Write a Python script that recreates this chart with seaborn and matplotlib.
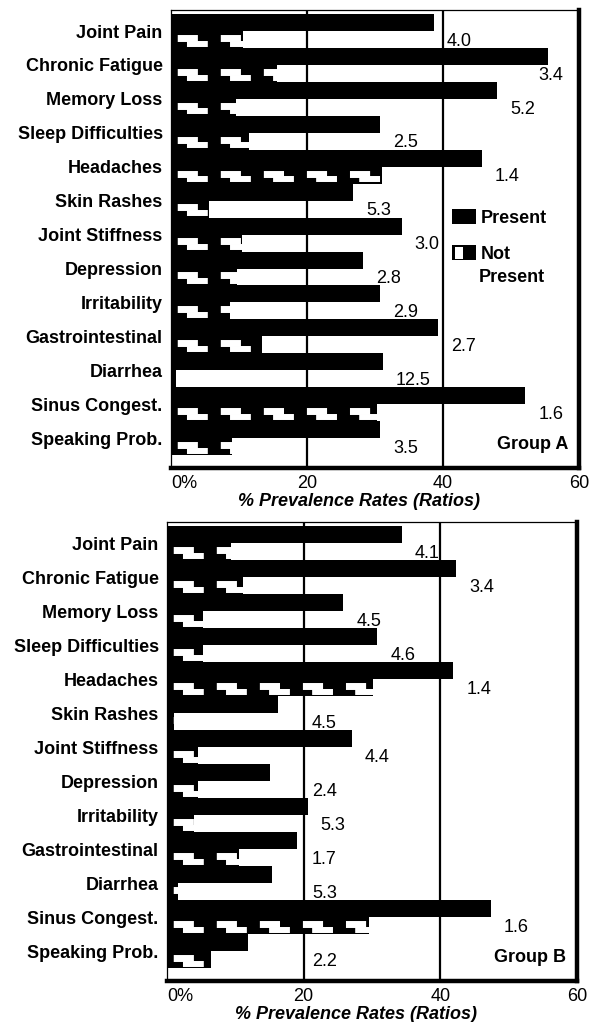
import pandas as pd
import seaborn as sns
import matplotlib.pyplot as plt
from matplotlib.patches import Rectangle
from matplotlib.legend_handler import HandlerBase

categories = ["Joint Pain", "Chronic Fatigue", "Memory Loss", "Sleep Difficulties",
              "Headaches", "Skin Rashes", "Joint Stiffness", "Depression",
              "Irritability", "Gastrointestinal", "Diarrhea", "Sinus Congest.",
              "Speaking Prob."]

# Group A
a_present = [38.6, 55.5, 48.0, 30.8, 45.7, 26.8, 33.9, 28.3, 30.8, 39.3, 31.1, 52.1, 30.8]
a_not_present = [10.6, 15.6, 9.5, 11.4, 31.0, 5.6, 10.4, 9.7, 8.7, 13.4, 0.8, 30.3, 9.0]
a_ratios = ["4.0", "3.4", "5.2", "2.5", "1.4", "5.3", "3.0", "2.8", "2.9", "2.7",
            "12.5", "1.6", "3.5"]

# Group B
b_present = [34.4, 42.3, 25.8, 30.8, 41.9, 16.3, 27.0, 15.1, 20.6, 19.0, 15.3, 47.4, 11.8]
b_not_present = [9.4, 11.1, 5.2, 5.2, 30.1, 1.0, 4.6, 4.6, 4.0, 10.5, 1.6, 29.5, 6.4]
b_ratios = ["4.1", "3.4", "4.5", "4.6", "1.4", "4.5", "4.4", "2.4", "5.3", "1.7",
            "5.3", "1.6", "2.2"]

x_ticks = [0, 20, 40, 60]
x_tick_labels = ["0%", "20", "40", "60"]
status_order = ["Present", "Not Present"]

sns.set_theme(style="white")
plt.rcParams["font.family"] = ["Liberation Sans", "DejaVu Sans"]
plt.rcParams["text.color"] = "black"
plt.rcParams["axes.labelcolor"] = "black"
plt.rcParams["xtick.color"] = "black"
plt.rcParams["ytick.color"] = "black"
plt.rcParams["lines.scale_dashes"] = False


def long_frame(present, not_present):
    n = len(categories)
    return pd.DataFrame({
        "symptom": categories * 2,
        "rate": present + not_present,
        "status": [status_order[0]] * n + [status_order[1]] * n,
    })


def step_pattern(ax, bar):
    # white stepped blocks inside a black bar (the "not present" fill)
    x0, y0 = bar.get_x(), bar.get_y()
    w, h = bar.get_width(), bar.get_height()
    upper = ax.plot([x0, x0 + w], [y0 + 0.40 * h] * 2, color="white", lw=5.0,
                    ls=(-4.5, (14.5, 16.5)), dash_capstyle="butt", zorder=2)[0]
    lower = ax.plot([x0, x0 + w], [y0 + 0.74 * h] * 2, color="white", lw=4.3,
                    ls=(-11.5, (15.0, 16.0)), dash_capstyle="butt", zorder=2)[0]
    for ln in (upper, lower):
        ln.set_clip_path(bar)


class StepHandler(HandlerBase):
    def create_artists(self, legend, orig, xd, yd, width, height, fontsize, trans):
        outer = Rectangle((-xd, -yd), width, height, facecolor="black",
                          edgecolor="none", transform=trans)
        inner = Rectangle((-xd + 0.13 * width, -yd + 0.12 * height), 0.35 * width,
                          0.72 * height, facecolor="white", edgecolor="none",
                          transform=trans)
        return [outer, inner]


def draw_panel(ax, present, not_present, ratios, group):
    df = long_frame(present, not_present)
    sns.barplot(data=df, x="rate", y="symptom", hue="status",
                hue_order=status_order, palette=["black", "black"],
                order=categories, orient="h", width=1.0, saturation=1,
                errorbar=None, legend=False, ax=ax)

    for bar in list(ax.patches):
        bar.set_linewidth(0)
    for bar in list(ax.patches)[len(categories):]:
        step_pattern(ax, bar)

    for x in (20, 40):
        ax.axvline(x, color="black", lw=1.6, zorder=0)

    ax.set_xlim(0, 60)
    ax.set_ylim(12.88, -0.62)
    ax.set_xticks(x_ticks, labels=x_tick_labels)
    ax.tick_params(length=0)
    ax.tick_params(axis="x", labelsize=13, pad=5)
    ax.tick_params(axis="y", labelsize=13, pad=6)
    for t in ax.get_yticklabels():
        t.set_fontweight("bold")
    ax.get_xticklabels()[0].set_ha("left")
    ax.set_ylabel("")
    ax.set_xlabel("% Prevalence Rates (Ratios)", fontsize=13, fontweight="bold",
                  fontstyle="italic", labelpad=1, x=0.46)

    # ratio of present / not present next to each pair
    for i, (v, r) in enumerate(zip(present, ratios)):
        ax.text(min(max(v + 1.9, 21.2), 54.0), i + 0.3, r, fontsize=13,
                ha="left", va="center")

    ax.text(0.973, 0.052, group, transform=ax.transAxes, ha="right", va="center",
            fontsize=13, fontweight="bold")

    for side in ("top", "left"):
        ax.spines[side].set_linewidth(0.9)
    for side in ("right", "bottom"):
        ax.spines[side].set_linewidth(3.2)
    for s in ax.spines.values():
        s.set_color("black")


fig = plt.figure(figsize=(5.92, 10.22), dpi=100)
ax_a = fig.add_axes([0.2889, 0.5421, 0.6892, 0.4481])
ax_b = fig.add_axes([0.2821, 0.0401, 0.6926, 0.4491])

draw_panel(ax_a, a_present, a_not_present, a_ratios, "Group A")
draw_panel(ax_b, b_present, b_not_present, b_ratios, "Group B")

present_handle = Rectangle((0, 0), 1, 1, facecolor="black", edgecolor="none")
not_handle = Rectangle((0, 0), 1, 1, facecolor="black", edgecolor="none")
ax_a.legend([present_handle, not_handle], ["Present", "Not"], loc="upper left",
            bbox_to_anchor=(0.689, 0.566), frameon=False, borderpad=0,
            borderaxespad=0, handlelength=1.3, handleheight=0.95,
            handletextpad=0.3, labelspacing=1.0,
            handler_map={not_handle: StepHandler()},
            prop={"size": 13, "weight": "bold"})
ax_a.text(0.755, 0.417, "Present", transform=ax_a.transAxes, ha="left",
          va="center", fontsize=13, fontweight="bold")

fig.savefig("out.png", dpi=100)
